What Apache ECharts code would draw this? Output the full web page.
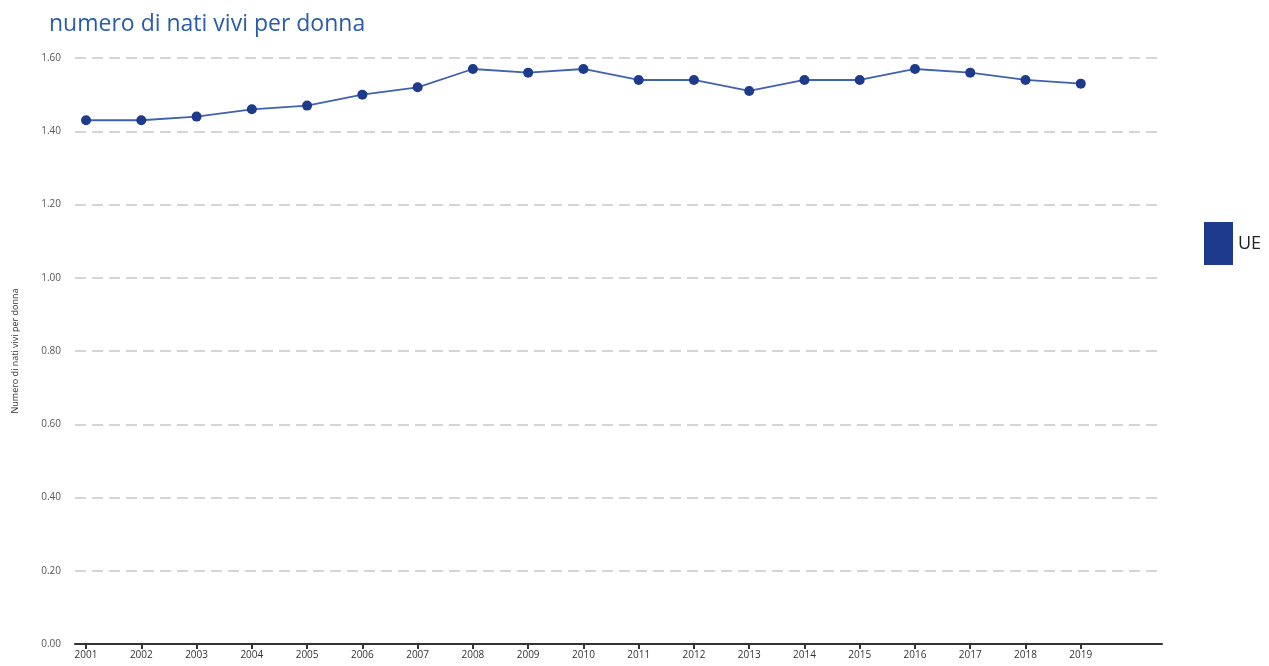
<!DOCTYPE html>
<html><head><meta charset="utf-8">
<script src="https://cdn.jsdelivr.net/npm/echarts@6/dist/echarts.min.js"></script>
<style>html,body{margin:0;padding:0;background:#fff}#c{width:1269px;height:666px}</style>
</head><body><div id="c"></div>
<script>
const years = [2001,2002,2003,2004,2005,2006,2007,2008,2009,2010,2011,2012,2013,2014,2015,2016,2017,2018,2019];
const ueValues = [1.43,1.43,1.44,1.46,1.47,1.50,1.52,1.57,1.56,1.57,1.54,1.54,1.51,1.54,1.54,1.57,1.56,1.54,1.53];
const yTicks = [0,0.2,0.4,0.6,0.8,1.0,1.2,1.4,1.6];

const chart = echarts.init(document.getElementById('c'));
chart.setOption({
  animation:false,
  title:{text:'numero di nati vivi per donna',left:44,top:8,textStyle:{fontFamily:'Open Sans',fontSize:23,fontWeight:'normal',color:'#2a5ca8'}},
  legend:{left:1199,top:217,orient:'vertical',itemWidth:29,itemHeight:43,icon:'rect',itemGap:8,
    textStyle:{fontFamily:'Open Sans',fontSize:18,color:'#222'},data:['UE']},
  grid:{left:75,right:107,top:58,bottom:22,containLabel:false},
  xAxis:{type:'value',min:2000.8,max:2020.47,
    axisLine:{show:true,lineStyle:{color:'#333',width:2}},
    axisTick:{show:true,customValues:years,length:5,lineStyle:{color:'#333',width:2}},
    axisLabel:{customValues:years,fontFamily:'Open Sans',fontSize:10,color:'#333',margin:6,formatter:v=>String(Math.round(v))},
    splitLine:{show:false}},
  yAxis:{type:'value',min:0,max:1.6,interval:0.2,
    name:'Numero di nati vivi per donna',nameLocation:'middle',nameGap:55,
    nameTextStyle:{fontFamily:'Open Sans',fontSize:9,color:'#333'},
    axisLine:{show:false},axisTick:{show:false},
    axisLabel:{fontFamily:'Open Sans',fontSize:10,color:'#555',margin:14,formatter:v=>v.toFixed(2)},
    splitLine:{show:true,lineStyle:{color:'#c8c8c8',type:[11,6],width:1.5}}},
  series:[{name:'UE',type:'line',data:years.map((y,i)=>[y,ueValues[i]]),
    symbol:'circle',symbolSize:10,
    itemStyle:{color:'#1e3a8c'},
    lineStyle:{color:'#4060b0',width:1.8}}]
});
</script></body></html>
